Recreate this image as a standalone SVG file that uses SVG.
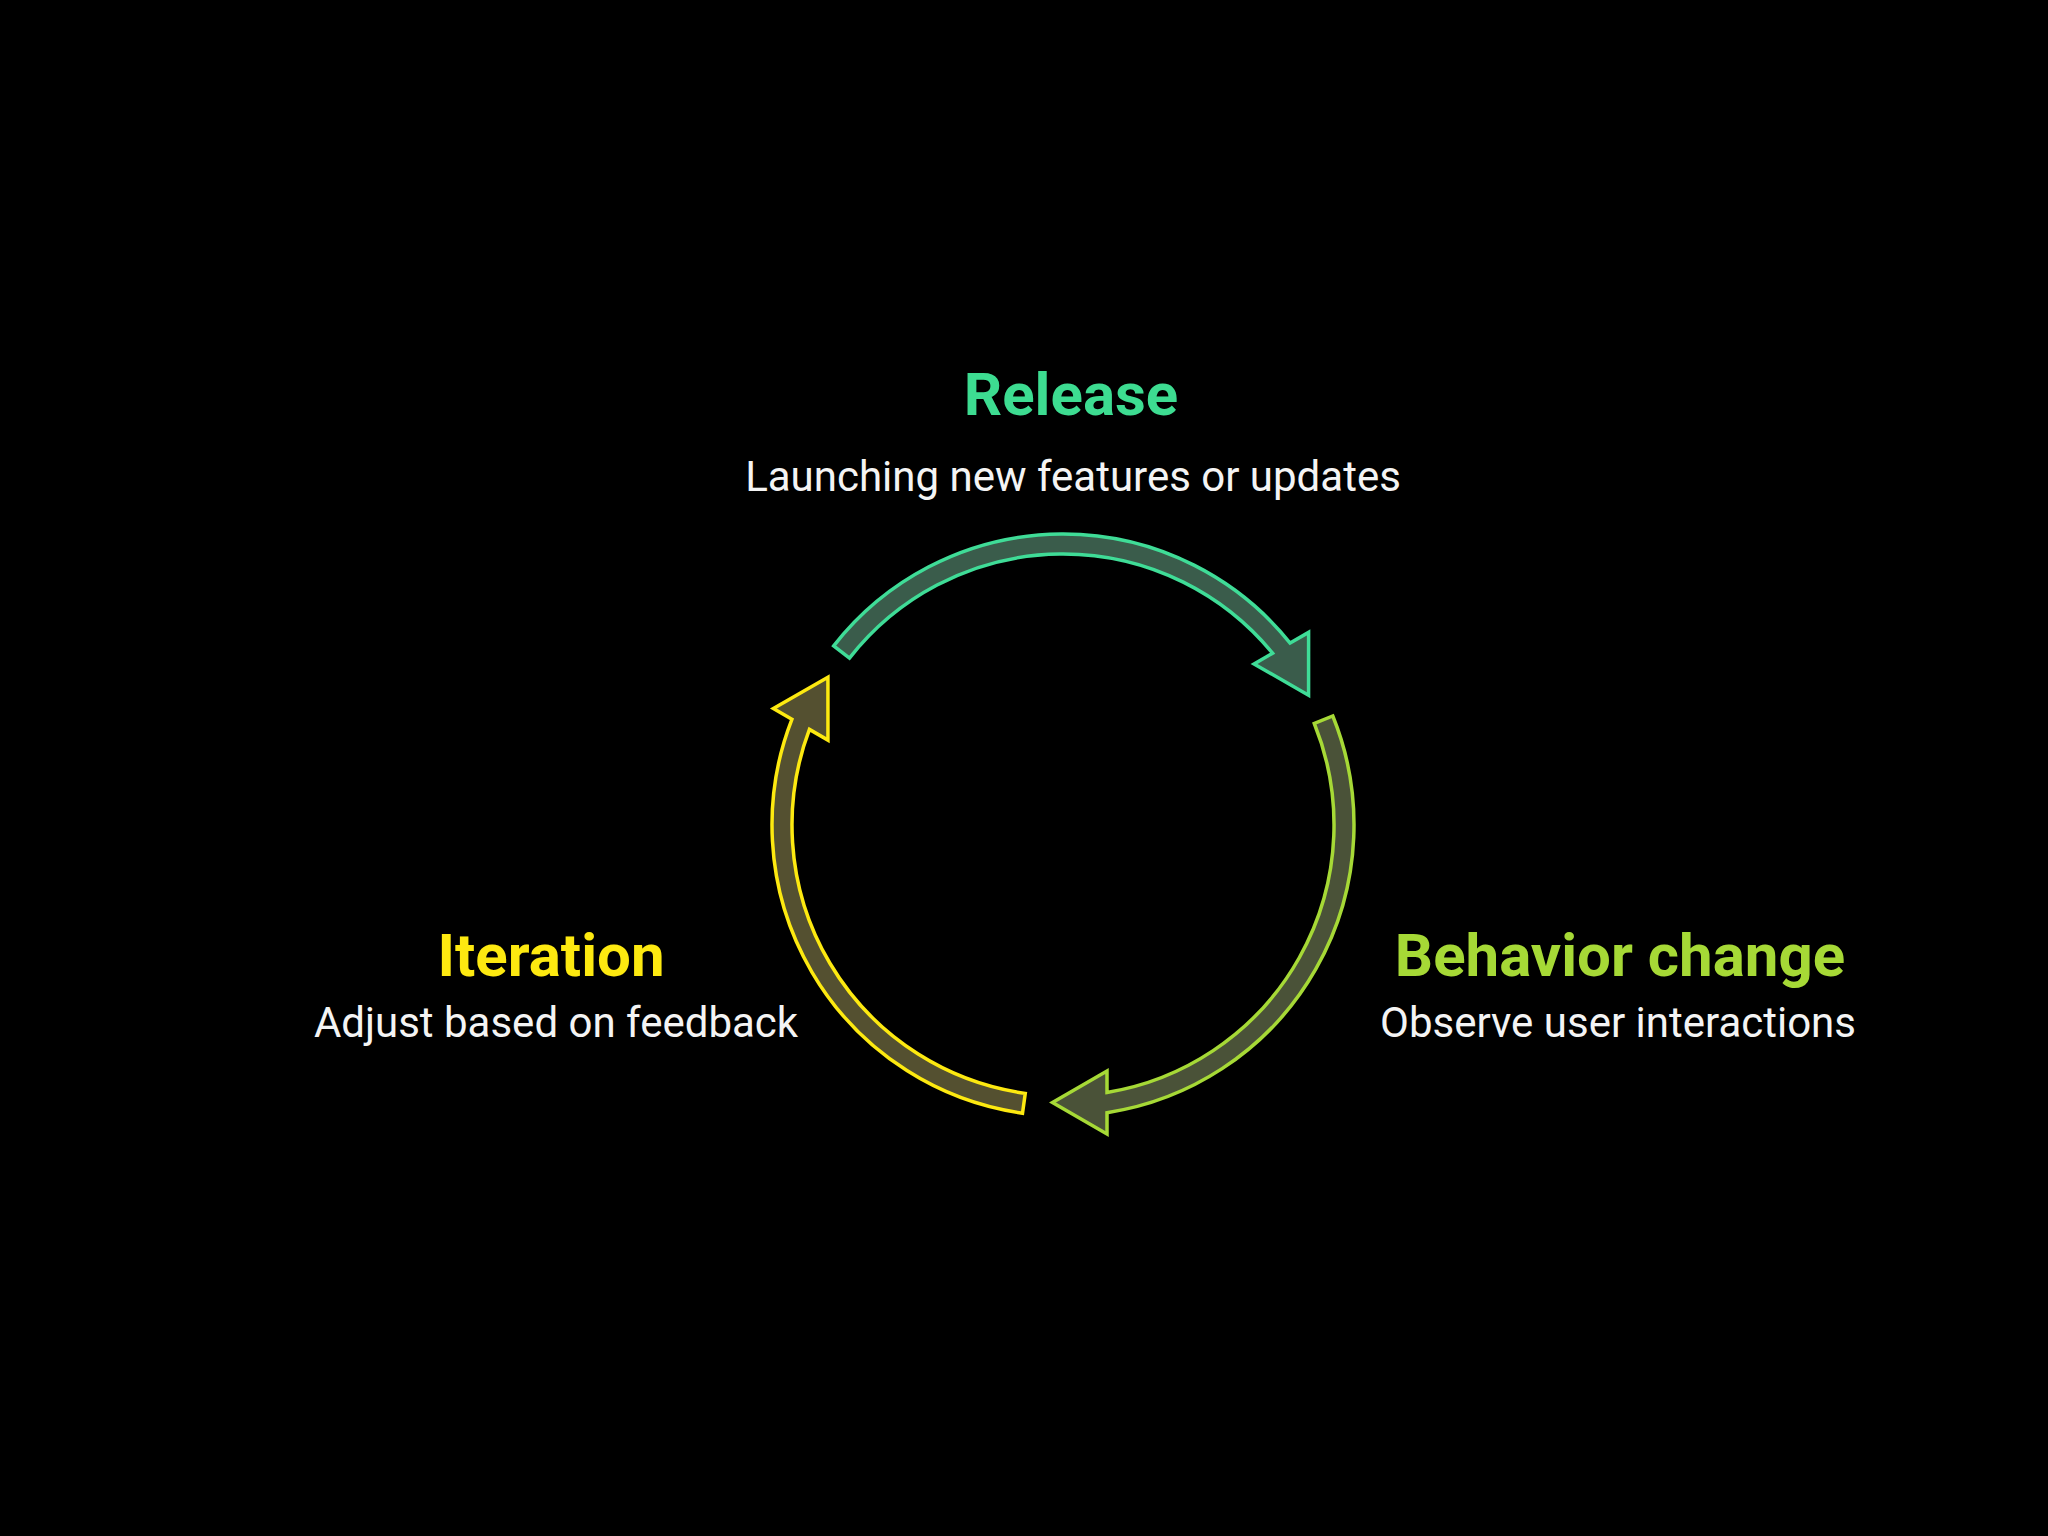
<svg xmlns="http://www.w3.org/2000/svg" width="2048" height="1536" viewBox="0 0 2048 1536">
  <style>
    .title { font-family: Roboto, "Liberation Sans", sans-serif; font-weight: 700; font-size: 60px; text-anchor: middle; }
    .sub { font-family: Roboto, "Liberation Sans", sans-serif; font-weight: 400; font-size: 42px; fill: #f4f4f4; text-anchor: middle; }
    .seg { stroke-width: 3.5; stroke-linejoin: miter; stroke-miterlimit: 10; }
  </style>
  <defs>
    <path id="segShape" d="M 1332.8 716.0 A 291 291 0 0 1 1107 1112.65 L 1107 1134 L 1052.5 1102.5 L 1107 1071 L 1107 1092.4 A 271 271 0 0 0 1314.3 723.5 Z"/>
  </defs>
  <rect x="0" y="0" width="2048" height="1536" fill="#000000"/>

  <g id="connectors">
    <use id="arrow-release" href="#segShape" class="seg" fill="#3a5c4b" stroke="#3fdc97" transform="rotate(240 1063 825)"/>
    <use id="arrow-behavior" href="#segShape" class="seg" fill="#4a5238" stroke="#a6d936"/>
    <use id="arrow-iteration" href="#segShape" class="seg" fill="#545030" stroke="#fde910" transform="rotate(120 1063 825)"/>
  </g>

  <g id="node-release">
    <text class="title" x="1071" y="415" fill="#3ddc91">Release</text>
    <text class="sub" x="1073" y="491">Launching new features or updates</text>
  </g>

  <g id="node-behavior">
    <text class="title" x="1620" y="976" fill="#a6d936">Behavior change</text>
    <text class="sub" x="1618" y="1037">Observe user interactions</text>
  </g>

  <g id="node-iteration">
    <text class="title" x="551" y="976" fill="#fde910">Iteration</text>
    <text class="sub" x="556" y="1037">Adjust based on feedback</text>
  </g>
</svg>
